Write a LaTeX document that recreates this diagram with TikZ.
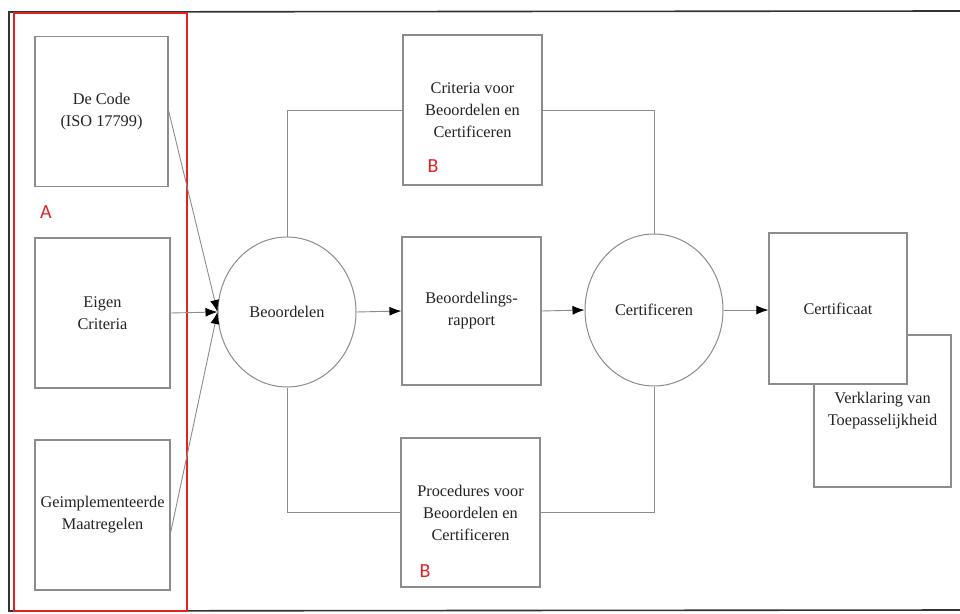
\documentclass[tikz,border=0pt]{standalone}
\usepackage{fontspec}
\setmainfont{Liberation Serif}
\newfontfamily\bodyfont{Liberation Serif}
\newfontfamily\labelfont{Carlito}
\usetikzlibrary{arrows.meta,shapes.geometric}
\definecolor{linegray}{RGB}{140,140,140}
\definecolor{textgray}{RGB}{35,35,35}
\definecolor{markred}{RGB}{225,35,35}
\begin{document}
\begin{tikzpicture}[x=1pt,y=-1pt,
  font=\bodyfont\fontsize{16.3}{22}\selectfont,
  box/.style={draw=linegray,line width=1.1pt,fill=white,rectangle,
    minimum width=#1,minimum height=150pt,inner sep=0pt,align=center,
    text=textgray},
  box/.default=135pt,
  proc/.style={draw=linegray,line width=1pt,fill=white,ellipse,
    minimum width=138pt,minimum height=150pt,inner sep=0pt,text=textgray},
  link/.style={draw=linegray,line width=0.9pt},
  flow/.style={link,-{Latex[length=12pt,width=9pt,black]}},
  redtag/.style={text=markred,font=\labelfont\fontsize{20}{20}\selectfont,inner sep=0pt},
]
\useasboundingbox (0,0) rectangle (960,613);
\fill[white] (0,0) rectangle (960,613);

% page frame
\draw[black!80,line width=1.6pt] (960,11) -- (9,12) -- (9,611) -- (960,610);

% input column
\node[box=133pt] (code) at (101.5,111.5) {De Code\\(ISO 17799)};
\node[box] (eigen) at (102.5,313) {Eigen\\Criteria};
\node[box] (geim) at (102.5,515) {Geimplementeerde\\Maatregelen};
\draw[markred,line width=1.4pt] (14,13) rectangle (187,611);
\node[redtag] (la) at (46,212) {A};

% process nodes
\node[proc] (beoord) at (287,312) {Beoordelen};
\node[box=139pt] (criteria) at (472.5,110) {Criteria voor\\Beoordelen en\\Certificeren};
\node[box=139pt,minimum height=148pt] (rapport) at (471.5,311) {Beoordelings-\\rapport};
\node[box=139pt,minimum height=149pt] (procs) at (470.5,512.5) {Procedures voor\\Beoordelen en\\Certificeren};
\node[proc,minimum height=152pt] (cert) at (654,310) {Certificeren};
\node[box=137pt,minimum height=152pt] (verkl) at (882.5,411) {Verklaring van\\Toepasselijkheid};
\node[box=138pt,minimum height=151pt] (certaat) at (838,308.5) {Certificaat};

\node[redtag] (lb1) at (433,166) {B};
\node[redtag] (lb2) at (425,571) {B};

% inputs converge on the assessment
\draw[flow] ([yshift=1pt]code.east) -- (beoord.west);
\draw[flow] (eigen.east) -- (beoord.west);
\draw[flow] ([yshift=-18pt]geim.east) -- (beoord.west);

% main flow
\draw[flow] (beoord.east) -- (rapport.west);
\draw[flow] (rapport.east) -- (cert.west);
\draw[flow] (cert.east) -- (certaat.west |- cert.east);

% criteria and procedures feed both steps
\draw[link] (beoord.north) |- (criteria.west);
\draw[link] (criteria.east) -| (cert.north);
\draw[link] (beoord.south) |- (procs.west);
\draw[link] (procs.east) -| (cert.south);
\end{tikzpicture}
\end{document}
